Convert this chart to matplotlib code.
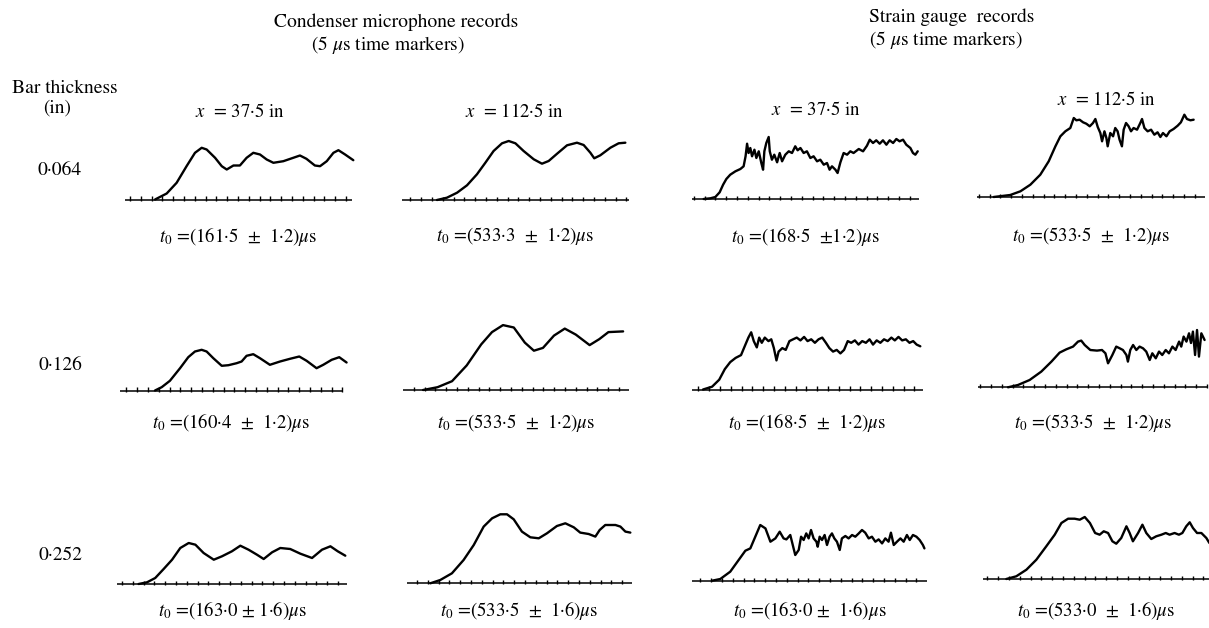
import matplotlib
matplotlib.use("Agg")
import matplotlib.pyplot as plt

# ---------------------------------------------------------------------------
# Oscilloscope records: time after sweep start (us) and trace deflection (arb.)
# cm = condenser microphone, sg = strain gauge; 064/126/252 = bar thickness
# x375 / x1125 = measuring station (in)
# ---------------------------------------------------------------------------
cm_064_x375_t = [13.9, 19.3, 23.9, 28.5, 32.4, 35.5, 37.8, 41.7, 44.8, 47.1, 50.2, 53.2, 56.3,
                 59.4, 62.5, 65.6, 68.7, 73.3, 77.9, 81.0, 84.0, 87.9, 90.3, 93.4, 96.5, 98.8,
                 101.9, 105.7]
cm_064_x375_y = [0, 6, 16.7, 33.3, 46.7, 51.7, 50, 41.7, 33.3, 30, 34, 34, 41.7,
                 46.7, 45, 40, 36.7, 38.3, 41.7, 44, 40.7, 34, 33.3, 38.3, 46.7, 49.3,
                 45, 39.3]

cm_064_x1125_t = [16.2, 20.8, 25.5, 30.1, 34.7, 38.6, 42.4, 46.3, 49.4, 52.5, 56.3, 61.0, 64.8,
                  67.9, 71.8, 76.4, 81.0, 84.1, 87.2, 89.0, 91.8, 96.5, 100.3, 103.4]
cm_064_x1125_y = [0, 2.3, 7.3, 14.7, 25.7, 37.3, 49, 56.7, 59, 56.7, 49, 40.7, 36.3,
                  39, 46.3, 54.7, 57.3, 55, 47.3, 41.7, 44.7, 52.3, 56.7, 57.3]

sg_064_x375_t = [5.4, 8.5, 10.8, 12.8, 14.4, 15.9, 17.7, 20.1, 22.4, 23.9, 24.8, 25.5, 26.2,
                 27.0, 27.8, 28.9, 29.8, 30.9, 32.1, 32.9, 33.5, 34.4, 35.5, 36.0, 37.0, 38.1,
                 39.4, 40.6, 41.7, 43.2, 44.8, 46.3, 47.8, 48.9, 50.2, 51.7, 53.2, 54.8, 56.3,
                 57.9, 59.4, 61.0, 62.5, 63.7, 64.8, 66.4, 67.4, 68.7, 70.2, 71.8, 73.3, 74.8,
                 77.2, 79.2, 81.0, 82.3, 83.8, 85.3, 86.9, 88.4, 90.0, 91.5, 93.1, 94.6, 96.1,
                 97.7, 99.2, 101.1, 102.3, 103.4, 104.5]
sg_064_x375_y = [0, 0.7, 2, 6.7, 14.3, 20, 24.3, 27.7, 30, 32.7, 42.7, 55.3, 46,
                 51, 42.7, 49.3, 41, 47.7, 36, 29.3, 47.7, 56, 62, 47.7, 39.3, 44.3,
                 36.7, 46, 37.7, 44.3, 47.7, 46, 52.7, 48.7, 51, 46, 47.7, 41, 42.7,
                 37.7, 39.3, 34.3, 36, 29.3, 32.7, 29.3, 26, 36.7, 46, 44.3, 47.7, 46,
                 50, 47.7, 53.3, 59.3, 56, 58.7, 55.3, 58.7, 54.3, 58.7, 56, 60, 57.7,
                 59.3, 54.3, 51, 46, 44.3, 47.7]

sg_064_x1125_t = [7.7, 15.4, 20.1, 24.7, 29.3, 33.2, 36.3, 38.6, 40.9, 43.2, 44.8, 46.0, 47.5,
                  49.1, 50.6, 52.2, 53.7, 54.8, 55.9, 57.1, 57.9, 59.0, 59.9, 60.5, 61.7, 63.0,
                  64.0, 65.1, 66.0, 67.1, 67.9, 69.0, 70.2, 71.3, 72.5, 74.1, 75.6, 76.4, 77.5,
                  79.0, 80.6, 82.1, 83.6, 84.9, 86.1, 87.7, 89.2, 91.0, 92.9, 94.4, 96.0, 97.2,
                  98.8, 100.3]
sg_064_x1125_y = [0, 2, 5.7, 12.3, 22.3, 35.7, 50.7, 60.7, 65.7, 69, 79, 76.7, 77.3,
                  74.7, 73.3, 70.7, 74, 78, 70, 64, 55.7, 65.7, 59, 50.7, 64, 60.7,
                  69, 65.7, 57.3, 50.7, 67.3, 74, 70.7, 65.7, 69, 67.3, 74, 78, 69,
                  65.7, 67.3, 62.3, 64.7, 60, 64, 60.7, 65.7, 68, 71.3, 74.7, 82.3, 78,
                  76.7, 77.3]

cm_126_x375_t = [16.2, 19.3, 23.1, 27.8, 31.6, 34.7, 37.8, 40.1, 43.2, 47.1, 50.2, 54.0, 56.3,
                 58.6, 61.7, 64.8, 69.4, 74.1, 78.7, 83.0, 86.4, 91.0, 94.1, 98.0, 101.5, 104.9]
cm_126_x375_y = [0, 3.3, 9.7, 22.3, 33.3, 39, 40.7, 39, 32.3, 24.7, 25.3, 27.3, 29,
                 34.7, 36.3, 32.3, 25.7, 29, 31.7, 34, 29.7, 22.3, 25.7, 30.7, 33.3, 28]

cm_126_x1125_t = [9.3, 16.0, 22.7, 29.5, 36.2, 41.2, 46.3, 51.3, 56.4, 60.6, 64.8, 69.9, 74.9,
                  80.0, 86.4, 90.9, 95.1, 101.9]
cm_126_x1125_y = [0, 2.8, 8.8, 24.6, 45.6, 57.9, 64.9, 62.5, 47.4, 39.3, 42.1, 54.4, 61.4,
                  55.4, 44.9, 50.9, 57.9, 58.6]

sg_126_x375_t = [5.1, 9.3, 12.6, 15.2, 17.7, 20.2, 22.7, 24.4, 26.1, 27.4, 28.6, 30.0, 31.1,
                 32.3, 33.7, 35.4, 36.7, 37.9, 39.1, 40.1, 41.8, 43.4, 45.1, 46.8, 48.5, 50.2,
                 51.9, 53.5, 55.2, 56.9, 58.6, 60.3, 62.0, 63.6, 65.3, 67.0, 68.7, 70.4, 72.1,
                 73.7, 75.4, 77.1, 78.8, 80.5, 82.2, 83.8, 85.5, 87.2, 88.9, 90.6, 92.3, 93.9,
                 95.6, 97.3, 99.0, 100.7, 102.4, 104.0, 105.7]
sg_126_x375_y = [0, 2.8, 9.8, 20.4, 27.4, 31.6, 34.4, 43.2, 51.9, 57.2, 48.4, 42.1, 51.9,
                 46.7, 51.9, 48.4, 50.2, 41.4, 29.1, 37.9, 41.4, 39.6, 48.4, 50.2, 51.9, 49.1,
                 52.6, 48.4, 50.2, 46.7, 50.2, 51.9, 46.7, 41.4, 37.9, 39.6, 36.1, 39.6, 48.4,
                 46.7, 49.1, 44.9, 48.4, 46.7, 50.2, 44.9, 49.1, 46.7, 50.2, 48.4, 51.9, 49.1,
                 52.6, 49.1, 50.2, 46.7, 48.4, 44.9, 43.2]

sg_126_x1125_t = [13.9, 18.5, 23.9, 29.3, 34.0, 37.8, 40.9, 44.0, 46.3, 47.8, 49.4, 52.0, 55.1,
                  57.4, 59.0, 60.2, 62.2, 64.0, 65.6, 67.1, 68.7, 69.4, 70.5, 71.8, 73.3, 74.8,
                  76.4, 77.9, 79.5, 80.7, 82.3, 83.8, 85.3, 86.9, 88.4, 90.0, 91.5, 93.1, 94.1,
                  95.2, 96.5, 97.7, 98.6, 99.5, 100.5, 101.4, 102.3, 103.4, 104.9]
sg_126_x1125_y = [0, 2.3, 7.3, 15.7, 25.7, 34.7, 38, 40.7, 45.7, 46.7, 42.3, 37.3, 36.7,
                  37.3, 34, 24, 32.3, 40.7, 39, 37.3, 32.3, 25.7, 37.3, 42.3, 37.3, 40.7,
                  39, 35.7, 27.3, 34, 29, 35.7, 32.3, 37.3, 34, 40.7, 37.3, 45.7, 40.7,
                  50.7, 45.7, 54, 44.3, 55.7, 32.3, 57.3, 30.7, 54, 47.3]

cm_252_x375_t = [10.0, 13.9, 17.7, 21.6, 25.5, 29.3, 33.2, 36.3, 40.1, 44.8, 48.6, 53.2, 57.1,
                 60.9, 64.8, 67.9, 71.8, 75.6, 80.2, 84.9, 90.3, 94.9, 98.8, 102.2, 105.7]
cm_252_x375_y = [0, 1.7, 6, 15, 24.3, 36, 41, 39.3, 31, 24.3, 27.7, 32.7, 38.3,
                 34.3, 29.3, 25, 31.7, 36, 35, 30.3, 26, 34.3, 37.7, 32.7, 28.3]

cm_252_x1125_t = [10.8, 15.4, 20.8, 26.2, 30.9, 35.5, 39.4, 43.2, 46.3, 49.4, 53.2, 57.1, 61.0,
                  64.8, 69.4, 73.3, 77.2, 80.2, 84.1, 87.2, 89.2, 91.8, 96.5, 98.8, 101.1, 103.4]
cm_252_x1125_y = [0, 3.3, 10, 23.3, 38.3, 56.7, 65, 69, 69, 64, 51.7, 46, 45,
                  50, 57.3, 60, 56, 50.7, 49.3, 46.7, 53.3, 58.3, 58.3, 56.7, 51.7, 50.7]

sg_252_x375_t = [9.3, 13.1, 17.7, 21.6, 24.7, 27.0, 29.3, 31.6, 34.0, 36.3, 38.6, 40.6, 42.4,
                 43.7, 45.5, 47.8, 49.4, 50.5, 51.7, 52.9, 54.0, 55.1, 56.3, 57.6, 58.2, 59.1,
                 60.2, 61.4, 62.5, 63.7, 64.8, 65.9, 67.1, 68.4, 69.4, 71.0, 72.5, 74.1, 75.6,
                 77.2, 78.7, 80.2, 81.8, 83.3, 84.9, 86.4, 88.0, 89.5, 91.0, 92.1, 93.4, 94.9,
                 96.5, 98.0, 99.5, 100.8, 102.3, 103.9, 105.4, 106.9, 107.6]
sg_252_x375_y = [0, 1.7, 9, 20.7, 30, 32.3, 44, 55.7, 52.3, 39, 42.3, 49, 42.3,
                 41.3, 45.7, 25.7, 30.7, 44, 40.7, 47.3, 42.3, 50.7, 42.3, 39, 34, 44,
                 40.7, 45.7, 35.7, 44, 47.3, 42.3, 39, 30.7, 42.3, 44.7, 42.3, 45.7, 44,
                 47.3, 50.7, 48, 42.3, 44, 39, 41.3, 37.3, 42.3, 39, 48, 35.7, 39,
                 42.3, 39, 45.7, 40.7, 45.7, 44, 40.7, 35.7, 32.3]

sg_252_x1125_t = [10.8, 15.4, 20.1, 24.7, 29.3, 33.2, 36.3, 39.4, 42.4, 44.8, 47.1, 49.5, 51.9,
                  54.0, 55.9, 57.9, 59.9, 61.7, 64.0, 66.4, 67.9, 69.4, 71.8, 73.8, 75.6, 77.9,
                  80.2, 82.6, 84.6, 86.4, 88.7, 90.7, 92.3, 94.1, 95.7, 97.2, 99.1, 101.1, 103.4,
                  104.8]
sg_252_x1125_y = [0, 2.7, 9.3, 19.3, 32.7, 44.3, 56, 60.3, 60.3, 59.3, 62, 56, 46,
                  44.3, 47.7, 46, 37.7, 35.3, 41, 52.7, 46, 37.7, 46, 54.3, 46, 40,
                  42.7, 44.3, 46, 44.3, 46, 44.3, 46, 52.7, 56.7, 51, 46, 46, 41,
                  36]

# Arrival-time captions
captions_064 = ["(161·5  ±  1·2)", "(533·3  ±  1·2)", "(168·5  ±1·2)", "(533·5  ±  1·2)"]
captions_126 = ["(160·4  ±  1·2)", "(533·5  ±  1·2)", "(168·5  ±  1·2)", "(533·5  ±  1·2)"]
captions_252 = ["(163·0 ± 1·6)", "(533·5  ±  1·6)", "(163·0 ±  1·6)", "(533·0  ±  1·6)"]
thickness_labels = ["0·064", "0·126", "0·252"]
station_labels = ["37·5", "112·5", "37·5", "112·5"]

MARKER_US = 5.0  # time-marker interval

# ---------------------------------------------------------------------------
W, H = 1209, 628
plt.rcParams["font.family"] = ["STIXGeneral", "DejaVu Serif"]
plt.rcParams["mathtext.fontset"] = "stix"
fig = plt.figure(figsize=(W / 100, H / 100), dpi=100)
fig.patch.set_facecolor("white")

PX_PER_US = 2.16    # horizontal sweep scale
PX_PER_UNIT = 1.0   # vertical deflection scale
Y_LO, Y_HI = -8.0, 92.0

# panel layout: (sweep start px, baseline px from top, sweep length us, first marker us)
layout = [
    [(125, 199.5, 105.0, 2.3), (402, 200.0, 105.0, 3.9), (692, 199.0, 105.0, 0.8), (977, 197.0, 105.7, 0.8)],
    [(120, 390.5, 103.4, 3.0), (403, 390.0, 104.4, 5.0), (692, 389.5, 106.9, 3.0), (978, 387.3, 106.5, 1.0)],
    [(117, 584.0, 106.5, 2.3), (407, 583.3, 104.2, 4.6), (692, 580.7, 108.8, 3.9), (983, 579.0, 104.8, 2.0)],
]

traces = [
    [(cm_064_x375_t, cm_064_x375_y), (cm_064_x1125_t, cm_064_x1125_y),
     (sg_064_x375_t, sg_064_x375_y), (sg_064_x1125_t, sg_064_x1125_y)],
    [(cm_126_x375_t, cm_126_x375_y), (cm_126_x1125_t, cm_126_x1125_y),
     (sg_126_x375_t, sg_126_x375_y), (sg_126_x1125_t, sg_126_x1125_y)],
    [(cm_252_x375_t, cm_252_x375_y), (cm_252_x1125_t, cm_252_x1125_y),
     (sg_252_x375_t, sg_252_x375_y), (sg_252_x1125_t, sg_252_x1125_y)],
]
captions = [captions_064, captions_126, captions_252]
caption_y = [236, 423, 610]

for r in range(3):
    for c in range(4):
        x0, ybase, length, first = layout[r][c]
        pad = 4.0
        left_px = x0 - pad * PX_PER_US
        width_px = (length + 2 * pad) * PX_PER_US
        bottom_px = H - ybase - (-Y_LO) * PX_PER_UNIT
        height_px = (Y_HI - Y_LO) * PX_PER_UNIT
        ax = fig.add_axes([left_px / W, bottom_px / H, width_px / W, height_px / H])
        ax.set_xlim(-pad, length + pad)
        ax.set_ylim(Y_LO, Y_HI)
        ax.axis("off")

        # zero line with 5 us time markers
        ax.plot([0, length], [0, 0], color="black", lw=1.1, solid_capstyle="butt")
        marks = []
        m = first
        while m <= length:
            marks.append(m)
            m += MARKER_US
        ax.vlines(marks, -1.0, 3.2, color="black", lw=1.0)

        t, y = traces[r][c]
        ax.plot(t, y, color="black", lw=1.7, solid_joinstyle="round",
                solid_capstyle="round")

        cx = x0 + length * PX_PER_US / 2
        fig.text(cx / W, 1 - caption_y[r] / H,
                 r"$t_0$" + " =" + captions[r][c] + r"$\mu$s",
                 ha="center", va="center", fontsize=13.5)

# row labels
for r, lab in enumerate(thickness_labels):
    ypos = [170, 365, 555][r]
    fig.text(60 / W, 1 - ypos / H, lab, ha="center", va="center", fontsize=14)

# column headers
for c, (lab, xc, yc) in enumerate(zip(station_labels, [240, 514, 816, 1106], [112, 112, 110, 100])):
    fig.text(xc / W, 1 - yc / H, r"$x$" + "  = " + lab + " in",
             ha="center", va="center", fontsize=13.5)

fig.text(65 / W, 1 - 88 / H, "Bar thickness", ha="center", va="center", fontsize=14)
fig.text(57 / W, 1 - 108 / H, "(in)", ha="center", va="center", fontsize=14)

fig.text(396 / W, 1 - 22 / H, "Condenser microphone records", ha="center", va="center", fontsize=14)
fig.text(388 / W, 1 - 45 / H, "(5 " + r"$\mu$" + "s time markers)", ha="center", va="center", fontsize=14)
fig.text(952 / W, 1 - 17 / H, "Strain gauge  records", ha="center", va="center", fontsize=14)
fig.text(946 / W, 1 - 40 / H, "(5 " + r"$\mu$" + "s time markers)", ha="center", va="center", fontsize=14)

fig.savefig("out.png", dpi=100, facecolor="white")
